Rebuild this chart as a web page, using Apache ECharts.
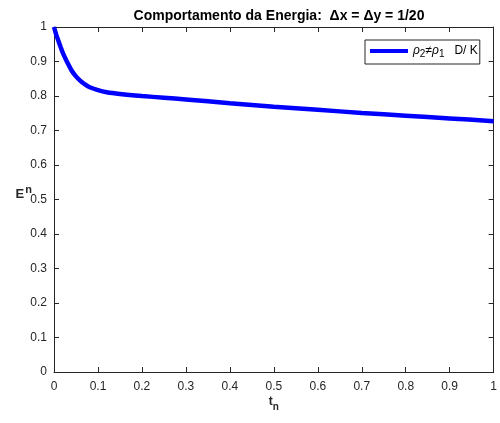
<!DOCTYPE html>
<html>
<head>
<meta charset="utf-8">
<title>Comportamento da Energia</title>
<script src="https://cdn.jsdelivr.net/npm/echarts@6/dist/echarts.min.js"></script>
<style>
  html, body { margin: 0; padding: 0; background: #fff; }
  #chart { width: 500px; height: 423px; }
</style>
</head>
<body>
<div id="chart"></div>
<script>
// Time samples t_n and the discrete energy E^n
const timeValues = [0, 0.005, 0.01, 0.015, 0.02, 0.03, 0.04, 0.05, 0.06, 0.07, 0.08,
  0.1, 0.12, 0.15, 0.2, 0.25, 0.3, 0.4, 0.5, 0.6, 0.7, 0.8, 0.9, 1.0];
const energyValues = [1.000, 0.978, 0.960, 0.942, 0.925, 0.898, 0.874, 0.857, 0.844, 0.834, 0.826,
  0.817, 0.811, 0.806, 0.800, 0.795, 0.790, 0.779, 0.769, 0.760, 0.751, 0.743, 0.735, 0.727];

const seriesName = 'ρ2≠ρ1 D/ K';
const titleText = 'Comportamento da Energia:  Δx = Δy = 1/20';

const FONT = '"Liberation Sans", Arial, Helvetica, sans-serif';
const INK = '#262626';

const points = timeValues.map((t, i) => [t, energyValues[i]]);

const baseAxis = {
  type: 'value',
  min: 0,
  max: 1,
  interval: 0.1,
  splitLine: { show: false },
  axisLine: { show: true, onZero: false, lineStyle: { color: INK, width: 1 } },
  axisTick: { show: true, inside: true, length: 5, lineStyle: { color: INK, width: 1 } }
};

const chart = echarts.init(document.getElementById('chart'), null, { renderer: 'canvas' });

chart.setOption({
  animation: false,
  backgroundColor: '#ffffff',
  title: {
    text: titleText,
    left: 274,
    textAlign: 'center',
    top: 4,
    textStyle: { fontFamily: FONT, fontSize: 14, fontWeight: 'bold', color: '#000' }
  },
  grid: { left: 54, right: 6, top: 27, bottom: 51, containLabel: false },
  legend: {
    left: 365,
    top: 40,
    orient: 'vertical',
    padding: [5, 2, 5, 5],
    borderColor: INK,
    borderWidth: 1,
    backgroundColor: '#fff',
    itemWidth: 38,
    itemHeight: 4,
    itemGap: 0,
    icon: 'rect',
    data: [seriesName],
    formatter: function () {
      return '{g|ρ}{s|2}{o|≠}{g|ρ}{s|1}{d|   D/ K}';
    },
    textStyle: {
      fontFamily: FONT,
      color: '#000',
      padding: [0, 0, 0, 0],
      rich: {
        g: { fontFamily: FONT, fontSize: 12, fontStyle: 'italic', color: '#000', lineHeight: 16, verticalAlign: 'middle' },
        s: { fontFamily: FONT, fontSize: 10, color: '#000', lineHeight: 16, verticalAlign: 'bottom', padding: [4, 0, 0, 0] },
        o: { fontFamily: FONT, fontSize: 12, color: '#000', lineHeight: 16, verticalAlign: 'middle' },
        d: { fontFamily: FONT, fontSize: 12, color: '#000', lineHeight: 16, verticalAlign: 'middle' }
      }
    }
  },
  xAxis: [
    Object.assign({}, baseAxis, {
      position: 'bottom',
      axisLabel: { show: true, margin: 9, fontFamily: FONT, fontSize: 12, color: INK },
      name: '{t|t}{n|n}',
      nameLocation: 'middle',
      nameGap: 24,
      nameMoveOverlap: false,
      nameTextStyle: {
        rich: {
          t: { fontFamily: FONT, fontSize: 12, fontWeight: 'bold', color: INK, lineHeight: 16, verticalAlign: 'top' },
          n: { fontFamily: FONT, fontSize: 10, fontWeight: 'bold', color: INK, lineHeight: 16, verticalAlign: 'bottom', padding: [6, 0, 0, 0] }
        }
      }
    }),
    Object.assign({}, baseAxis, {
      position: 'top',
      axisLabel: { show: false }
    })
  ],
  yAxis: [
    Object.assign({}, baseAxis, {
      position: 'left',
      axisLabel: { show: true, margin: 7, fontFamily: FONT, fontSize: 12, color: INK },
      name: '{e|E}{n|n}',
      nameLocation: 'middle',
      nameRotate: 0,
      nameGap: 22,
      nameMoveOverlap: false,
      nameTextStyle: {
        padding: [0, 0, 14, 0],
        rich: {
          e: { fontFamily: FONT, fontSize: 13, fontWeight: 'bold', color: INK, lineHeight: 16, verticalAlign: 'bottom' },
          n: { fontFamily: FONT, fontSize: 11, fontWeight: 'bold', color: INK, lineHeight: 16, verticalAlign: 'top', padding: [0, 0, 7, 1] }
        }
      }
    }),
    Object.assign({}, baseAxis, {
      position: 'right',
      axisLabel: { show: false }
    })
  ],
  series: [
    {
      name: seriesName,
      type: 'line',
      xAxisIndex: 0,
      yAxisIndex: 0,
      data: points,
      smooth: 0.3,
      showSymbol: false,
      symbol: 'none',
      clip: true,
      lineStyle: { color: '#0000ff', width: 4.5 },
      itemStyle: { color: '#0000ff' }
    }
  ]
});
</script>
</body>
</html>
